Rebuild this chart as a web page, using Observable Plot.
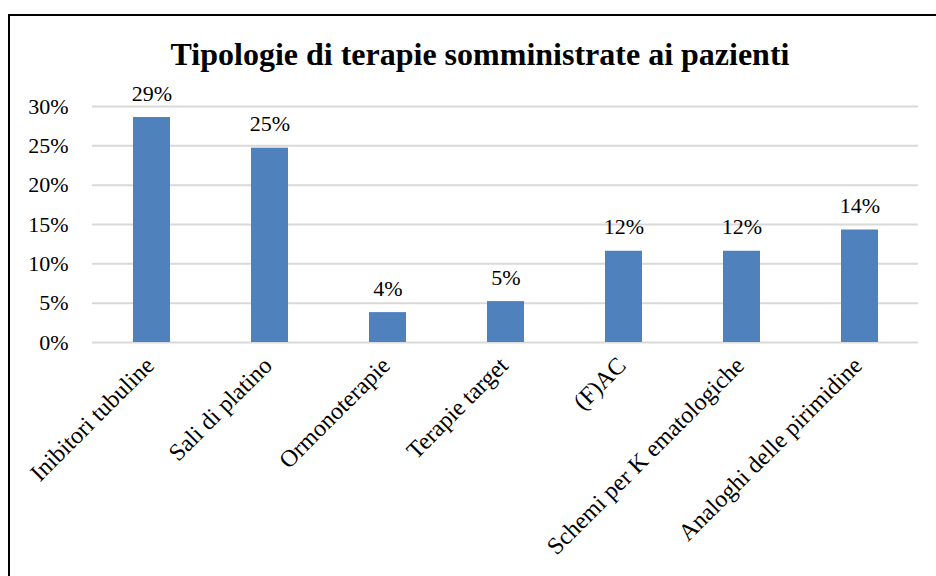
<!DOCTYPE html>
<html>
<head>
<meta charset="utf-8">
<script src="https://cdn.jsdelivr.net/npm/d3@7"></script>
<script src="https://cdn.jsdelivr.net/npm/@observablehq/plot@0.6"></script>
<style>
  html, body { margin: 0; padding: 0; background: #fff; }
  #wrap { position: relative; width: 936px; height: 576px; overflow: hidden; background: #fff; }
  #frame { position: absolute; left: 8px; top: 14px; width: 960px; height: 640px; border: 2px solid #000; box-sizing: border-box; }
  #title { position: absolute; left: 0; width: 960px; top: 36px; text-align: center; font-family: "Liberation Serif", "Times New Roman", serif; font-weight: bold; font-size: 32px; color: #000; line-height: 36px; }
  #chart { position: absolute; left: 0; top: 0; }
  #chart svg, #chart svg text { font-family: "Liberation Serif", "Times New Roman", serif !important; }
</style>
</head>
<body>
<div id="wrap">
  <div id="frame"></div>
  <div id="chart"></div>
  <div id="title">Tipologie di terapie somministrate ai pazienti</div>
</div>
<script>
const categories = ["Inibitori tubuline", "Sali di platino", "Ormonoterapie", "Terapie target", "(F)AC", "Schemi per K ematologiche", "Analoghi delle pirimidine"];
const values = [0.286, 0.247, 0.038, 0.052, 0.116, 0.116, 0.143];
const valueLabels = ["29%", "25%", "4%", "5%", "12%", "12%", "14%"];
const yTicks = [0, 0.05, 0.10, 0.15, 0.20, 0.25, 0.30];

const data = categories.map((c, i) => ({category: c, value: values[i], label: valueLabels[i]}));
const font = '"Liberation Serif", "Times New Roman", serif';

const chart = Plot.plot({
  width: 936,
  height: 576,
  marginLeft: 92,
  marginRight: 18,
  marginTop: 106,
  marginBottom: 234,
  style: {fontFamily: font, fontSize: "22px", color: "#000", background: "transparent", overflow: "visible"},
  x: {domain: categories, paddingInner: 0.69, paddingOuter: 0.345, label: null},
  y: {domain: [0, 0.30], label: null},
  marks: [
    Plot.gridY(yTicks, {stroke: "#D9D9D9", strokeOpacity: 1, strokeWidth: 2}),
    Plot.barY(data, {x: "category", y: "value", fill: "#4F81BD"}),
    Plot.text(data, {x: "category", y: "value", text: "label", lineAnchor: "middle", dy: -24, fontSize: 22, fill: "#000"}),
    Plot.axisY(yTicks, {tickFormat: d => Math.round(d * 100) + "%", tickSize: 0, tickPadding: 24, fontSize: 22, label: null}),
    Plot.axisX({tickSize: 0, tickRotate: -45, tickPadding: 0, dx: -2, dy: 19, fontSize: 24, label: null})
  ]
});
document.getElementById("chart").appendChild(chart);
</script>
</body>
</html>
